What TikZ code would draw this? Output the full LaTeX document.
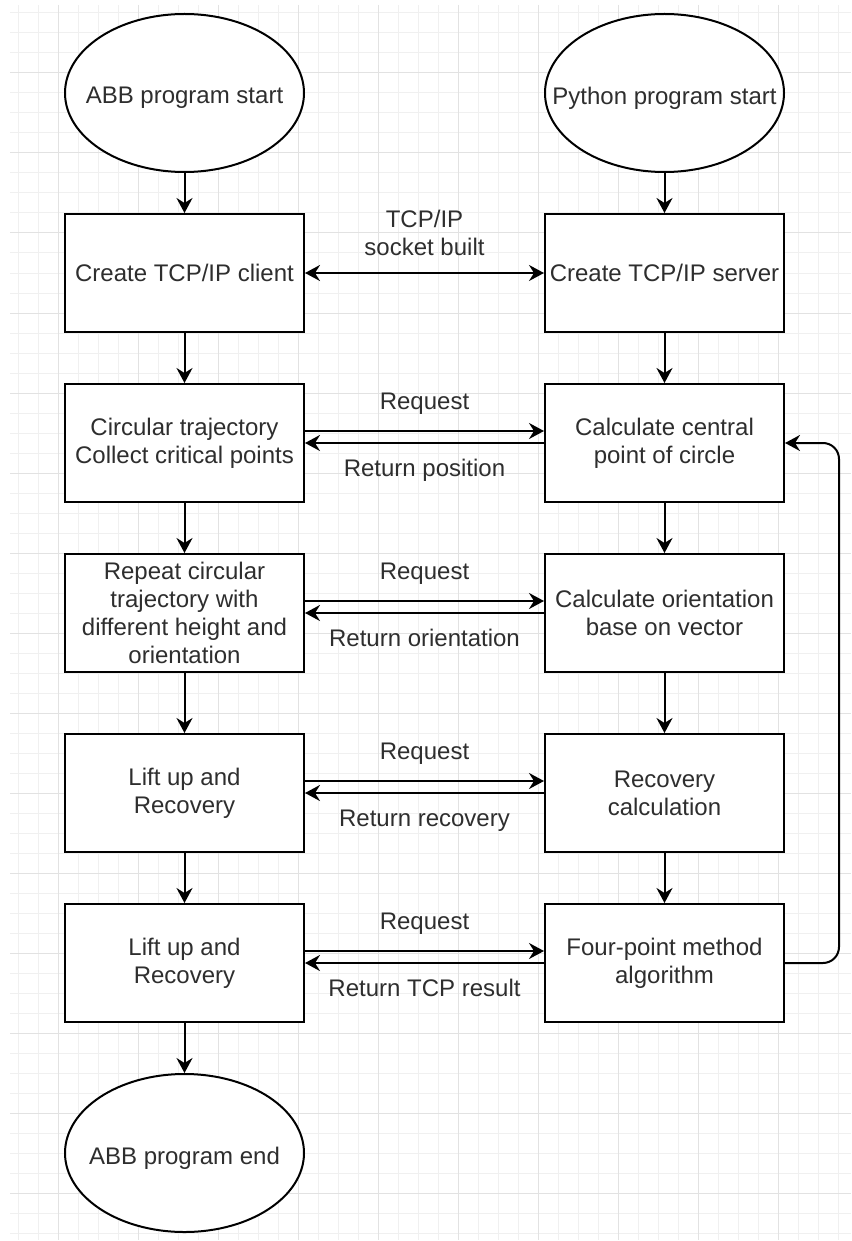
\documentclass[tikz,border=0pt]{standalone}
\usepackage{fontspec}
\setmainfont{Liberation Sans}
\usepackage{tikz}
\usetikzlibrary{arrows.meta, positioning, shapes.geometric}
\usepackage{xcolor}
\definecolor{gridminor}{HTML}{F0F0F0}
\definecolor{gridmajor}{HTML}{E2E2E2}
\definecolor{inkgray}{HTML}{2E2E2E}

\tikzset{
  every node/.style={font=\fontsize{24}{28}\selectfont, text=inkgray},
  stepbox/.style={draw, line width=2pt, rectangle, fill=white,
    minimum width=239pt, minimum height=118pt, align=center},
  terminal/.style={draw, line width=2pt, ellipse, fill=white,
    minimum width=239pt, minimum height=158pt, inner sep=0pt},
  endtext/.style={label={[yshift=-5pt]center:#1}},
  flow/.style={->, line width=2pt},
  msg/.style={inner sep=0pt, text height=17pt, text depth=5pt},
}

\begin{document}
\begin{tikzpicture}[x=1pt, y=-1pt, node distance=50pt,
  >={Stealth[length=15pt, width=16pt, inset=5pt]}]
\useasboundingbox (0,0) rectangle (851,1241);

% background grid
\begin{scope}
\clip (10,5) rectangle (851,1240);
\foreach \gx in {18,38,...,850} \draw[gridminor, line width=1pt] (\gx,5) -- (\gx,1240);
\foreach \gy in {13,33,...,1240} \draw[gridminor, line width=1pt] (10,\gy) -- (851,\gy);
\foreach \gx in {58,138,...,850} \draw[gridmajor, line width=1pt] (\gx,5) -- (\gx,1240);
\foreach \gy in {73,153,...,1240} \draw[gridmajor, line width=1pt] (10,\gy) -- (851,\gy);
\end{scope}

% ABB side
\node (absstart) [terminal, endtext={ABB program start}] at (184.5,93) {};
\node (absclient) [stepbox, below=40pt of absstart] {Create TCP/IP client};
\node (abscircle) [stepbox, below=of absclient] {Circular trajectory\\Collect critical points};
\node (absrepeat) [stepbox, below=of abscircle] {Repeat circular\\trajectory with\\different height and\\orientation};
\node (abslift) [stepbox, below=60pt of absrepeat] {Lift up and\\Recovery};
\node (absfinal) [stepbox, below=of abslift] {Lift up and\\Recovery};
\node (absend) [terminal, below=of absfinal, endtext={ABB program end}] {};

% Python side
\node (pystart) [terminal, right=239pt of absstart, endtext={Python program start}] {};
\node (pyserver) [stepbox, right=239pt of absclient] {Create TCP/IP server};
\node (pycentre) [stepbox, right=239pt of abscircle] {Calculate central\\point of circle};
\node (pyorient) [stepbox, right=239pt of absrepeat] {Calculate orientation\\base on vector};
\node (pyrecover) [stepbox, right=239pt of abslift] {Recovery\\calculation};
\node (pyfour) [stepbox, right=239pt of absfinal] {Four-point method\\algorithm};

\draw[flow] (absstart) -- (absclient);
\draw[flow] (absclient) -- (abscircle);
\draw[flow] (abscircle) -- (absrepeat);
\draw[flow] (absrepeat) -- (abslift);
\draw[flow] (abslift) -- (absfinal);
\draw[flow] (absfinal) -- (absend);

\draw[flow] (pystart) -- (pyserver);
\draw[flow] (pyserver) -- (pycentre);
\draw[flow] (pycentre) -- (pyorient);
\draw[flow] (pyorient) -- (pyrecover);
\draw[flow] (pyrecover) -- (pyfour);

\draw[flow, <->] (absclient) -- (pyserver)
  node[midway, above=16pt, inner sep=0pt, align=center] (socket) {TCP/IP\\socket built};

\draw[flow] ([yshift=12pt]abscircle.east) -- ([yshift=12pt]pycentre.west)
  node[msg, midway, above=16pt] {Request};
\draw[flow] (pycentre) -- (abscircle) node[msg, midway, below=15pt] {Return position};

\draw[flow] ([yshift=12pt]absrepeat.east) -- ([yshift=12pt]pyorient.west)
  node[msg, midway, above=16pt] {Request};
\draw[flow] (pyorient) -- (absrepeat) node[msg, midway, below=15pt] {Return orientation};

\draw[flow] ([yshift=12pt]abslift.east) -- ([yshift=12pt]pyrecover.west)
  node[msg, midway, above=16pt] {Request};
\draw[flow] (pyrecover) -- (abslift) node[msg, midway, below=15pt] {Return recovery};

\draw[flow] ([yshift=12pt]absfinal.east) -- ([yshift=12pt]pyfour.west)
  node[msg, midway, above=16pt] {Request};
\draw[flow] (pyfour) -- (absfinal) node[msg, midway, below=15pt] {Return TCP result};

\draw[flow, rounded corners=16pt] (pyfour.east) -- ++(54,0) |- (pycentre.east);
\end{tikzpicture}
\end{document}
